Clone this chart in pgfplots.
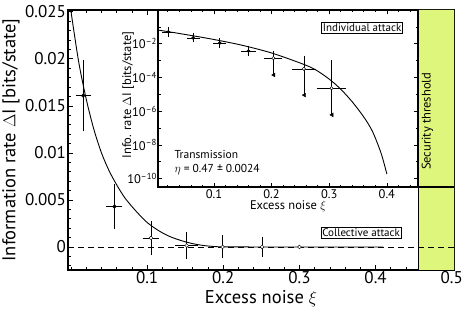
\documentclass[border=0pt]{standalone}
\usepackage{pgfplots}
\pgfplotsset{compat=1.18}
\usepackage{pgfplotstable}
\usepackage{fontspec}
\setmainfont{PT Sans}
\definecolor{band}{RGB}{223,246,125}

\pgfplotstableread{
x y ex ey
0.016 0.0161 0.006 0.0035
0.057 0.0043 0.0065 0.0021
}\mainfilled
\pgfplotstableread{
x y ex ey
0.105 0.00096 0.007 0.0015
0.152 0.00015 0.011 0.0011
}\mainopenx
\pgfplotstableread{
x y ey
0.199 0.0 0.0009
0.251 0.0 0.0007
}\mainopeny
\pgfplotstableread{
x y
0.300 0.0
}\mainopen

\pgfplotstableread{
x y ex ep em
0.021 0.050 0.007 0.022 0.014
0.064 0.022 0.007 0.007 0.005
0.110 0.011 0.007 0.004 0.003
0.160 0.0037 0.008 0.0018 0.0012
}\insfilled
\pgfplotstableread{
x y ex ep em
0.203 0.0014 0.011 0.0014 0.00126
0.256 0.00032 0.016 0.00108 0.000311
0.304 0.000023 0.020 0.000697 0.0000224
}\insopen

\begin{document}
\begin{tikzpicture}[x=1pt,y=1pt]
\useasboundingbox (-68pt,-40pt) rectangle (395pt,270pt);
\begin{axis}[
  at={(0pt,0pt)}, anchor=south west,
  scale only axis, width=386pt, height=260pt,
  xmin=-0.004, xmax=0.503, ymin=-0.00245, ymax=0.0252,
  xtick={0.1,0.2,0.3,0.4,0.5}, xticklabels={0.1,0.2,0.3,0.4,0.5},
  minor xtick={0,0.02,0.04,0.06,0.08,0.12,0.14,0.16,0.18,0.22,0.24,0.26,0.28,0.32,0.34,0.36,0.38,0.42,0.44,0.46,0.48},
  ytick={0,0.005,0.01,0.015,0.02,0.025}, yticklabels={0,0.005,0.01,0.015,0.02,0.025},
  minor ytick={-0.002,-0.001,0.001,0.002,0.003,0.004,0.006,0.007,0.008,0.009,0.011,0.012,0.013,0.014,0.016,0.017,0.018,0.019,0.021,0.022,0.023,0.024},
  scaled ticks=false,
  axis line style={line width=1.1pt},
  major tick length=5pt, minor tick length=3pt,
  every tick/.style={black, line width=0.8pt},
  tick label style={font=\fontsize{17}{17}\selectfont},
  xticklabel style={inner sep=1pt, yshift=0pt},
  yticklabel style={inner sep=2pt},
  xlabel={Excess noise $\xi$},
  ylabel={Information rate $\Delta\mathrm{I}$ [bits/state]},
  label style={font=\fontsize{18.5}{18.5}\selectfont},
  xlabel style={at={(axis description cs:0.5,-0.112)}, anchor=center},
  ylabel style={at={(axis description cs:-0.148,0.5)}, anchor=center},
  clip=true,
]
\addplot[fill=band, draw=none] coordinates {(0.456,-0.00245) (0.503,-0.00245) (0.503,0.0252) (0.456,0.0252)} \closedcycle;
\addplot[black, line width=1.1pt] coordinates {(0.456,-0.00245) (0.456,0.0252)};
\addplot[black, line width=1.1pt] coordinates {(0.456,0.00638) (0.503,0.00638)};
\addplot[black, line width=0.8pt, dash pattern=on 6pt off 4pt] coordinates {(-0.004,0) (0.503,0)};
\addplot[black, line width=0.9pt, smooth] coordinates {
(0,0.0250) (0.01,0.0197) (0.02,0.0157) (0.03,0.0125) (0.04,0.0100) (0.05,0.0081)
(0.06,0.0066) (0.07,0.0053) (0.08,0.0043) (0.09,0.0034) (0.10,0.0026) (0.11,0.0020)
(0.12,0.0015) (0.13,0.0011) (0.14,0.0008) (0.15,0.00055) (0.16,0.00035) (0.17,0.0002)
(0.18,0.0001) (0.19,0.00004) (0.20,0.00001) (0.25,0) (0.41,0)};
\addplot[only marks, black, mark=*, mark size=1.9pt,
  error bars/.cd, x dir=both, x explicit, y dir=both, y explicit,
  error bar style={line width=0.7pt}, error mark options={line width=0.7pt, mark size=3pt}]
  table[x=x, y=y, x error=ex, y error=ey] {\mainfilled};
\addplot[only marks, black, mark=*, mark size=1.9pt, mark options={fill=white},
  error bars/.cd, x dir=both, x explicit, y dir=both, y explicit,
  error bar style={line width=0.7pt}, error mark options={line width=0.7pt, mark size=3pt}]
  table[x=x, y=y, x error=ex, y error=ey] {\mainopenx};
\addplot[only marks, black, mark=*, mark size=1.9pt, mark options={fill=white},
  error bars/.cd, y dir=both, y explicit,
  error bar style={line width=0.7pt}, error mark options={line width=0.7pt, mark size=3pt}]
  table[x=x, y=y, y error=ey] {\mainopeny};
\addplot[only marks, black, mark=*, mark size=1.9pt, mark options={fill=white}]
  table[x=x, y=y] {\mainopen};
\node[draw, fill=white, line width=0.6pt, inner sep=1.5pt, font=\fontsize{11}{11}\selectfont] at (axis cs:0.381,0.00154) {Collective attack};
\node[rotate=90, font=\fontsize{12.5}{12.5}\selectfont] at (axis cs:0.468,0.01335) {Security threshold};
\end{axis}

\begin{axis}[
  at={(90pt,83pt)}, anchor=south west,
  scale only axis, width=260pt, height=177pt,
  ymode=log,
  xmin=0.003, xmax=0.454, ymin=3.162e-11, ymax=1,
  axis background/.style={fill=white},
  xtick={0.1,0.2,0.3,0.4}, xticklabels={0.1,0.2,0.3,0.4},
  minor xtick={0.02,0.04,0.06,0.08,0.12,0.14,0.16,0.18,0.22,0.24,0.26,0.28,0.32,0.34,0.36,0.38,0.42,0.44},
  ytick={1e-10,1e-8,1e-6,1e-4,1e-2},
  yticklabels={10\textsuperscript{–10},10\textsuperscript{–8},10\textsuperscript{–6},10\textsuperscript{–4},10\textsuperscript{–2}},
  minor ytick={1e-9,1e-7,1e-5,1e-3,1e-1},
  axis line style={line width=1.1pt},
  major tick length=4pt, minor tick length=2.5pt,
  every tick/.style={black, line width=0.7pt},
  tick label style={font=\fontsize{12.5}{12.5}\selectfont},
  yticklabel style={inner sep=1pt},
  xticklabel style={inner sep=2pt},
  xlabel={Excess noise $\xi$},
  ylabel={Info. rate $\Delta\mathrm{I}$ [bits/state]},
  label style={font=\fontsize{12.5}{12.5}\selectfont},
  xlabel style={at={(axis description cs:0.5,-0.11)}, anchor=center},
  ylabel style={at={(axis description cs:-0.115,0.52)}, anchor=center},
]
\addplot[black, line width=0.9pt, smooth] coordinates {
(0.003,0.0646) (0.05,0.0355) (0.1,0.0178) (0.15,0.00794) (0.2,0.00282) (0.25,7.08e-4)
(0.275,3.02e-4) (0.3,7.94e-5) (0.32,2.0e-5) (0.34,3.55e-6) (0.36,4.47e-7) (0.375,6.31e-8)
(0.39,3.16e-9) (0.40,1.86e-10)};
\addplot[only marks, black, mark=*, mark size=1.6pt,
  error bars/.cd, x dir=both, x explicit, y dir=both, y explicit,
  error bar style={line width=0.7pt}, error mark options={line width=0.7pt, mark size=2.5pt}]
  table[x=x, y=y, x error=ex, y error plus=ep, y error minus=em] {\insfilled};
\addplot[only marks, black, mark=*, mark size=1.6pt, mark options={fill=white},
  error bars/.cd, y dir=minus, y explicit,
  error bar style={line width=0.7pt}, error mark=triangle*, error mark options={rotate=180, mark size=2.2pt, fill=black}]
  table[x=x, y=y, y error minus=em] {\insopen};
\addplot[only marks, black, mark=*, mark size=1.6pt, mark options={fill=white},
  error bars/.cd, x dir=both, x explicit, y dir=plus, y explicit,
  error bar style={line width=0.7pt}, error mark options={line width=0.7pt, mark size=2.5pt}]
  table[x=x, y=y, x error=ex, y error plus=ep] {\insopen};
\node[draw, fill=white, line width=0.6pt, inner sep=1.5pt, font=\fontsize{11}{11}\selectfont] at (rel axis cs:0.785,0.898) {Individual attack};
\node[anchor=west, align=left, font=\fontsize{11.5}{14}\selectfont] at (rel axis cs:0.05,0.14) {Transmission\\$\eta$ = 0.47 ± 0.0024};
\end{axis}
\end{tikzpicture}
\end{document}
